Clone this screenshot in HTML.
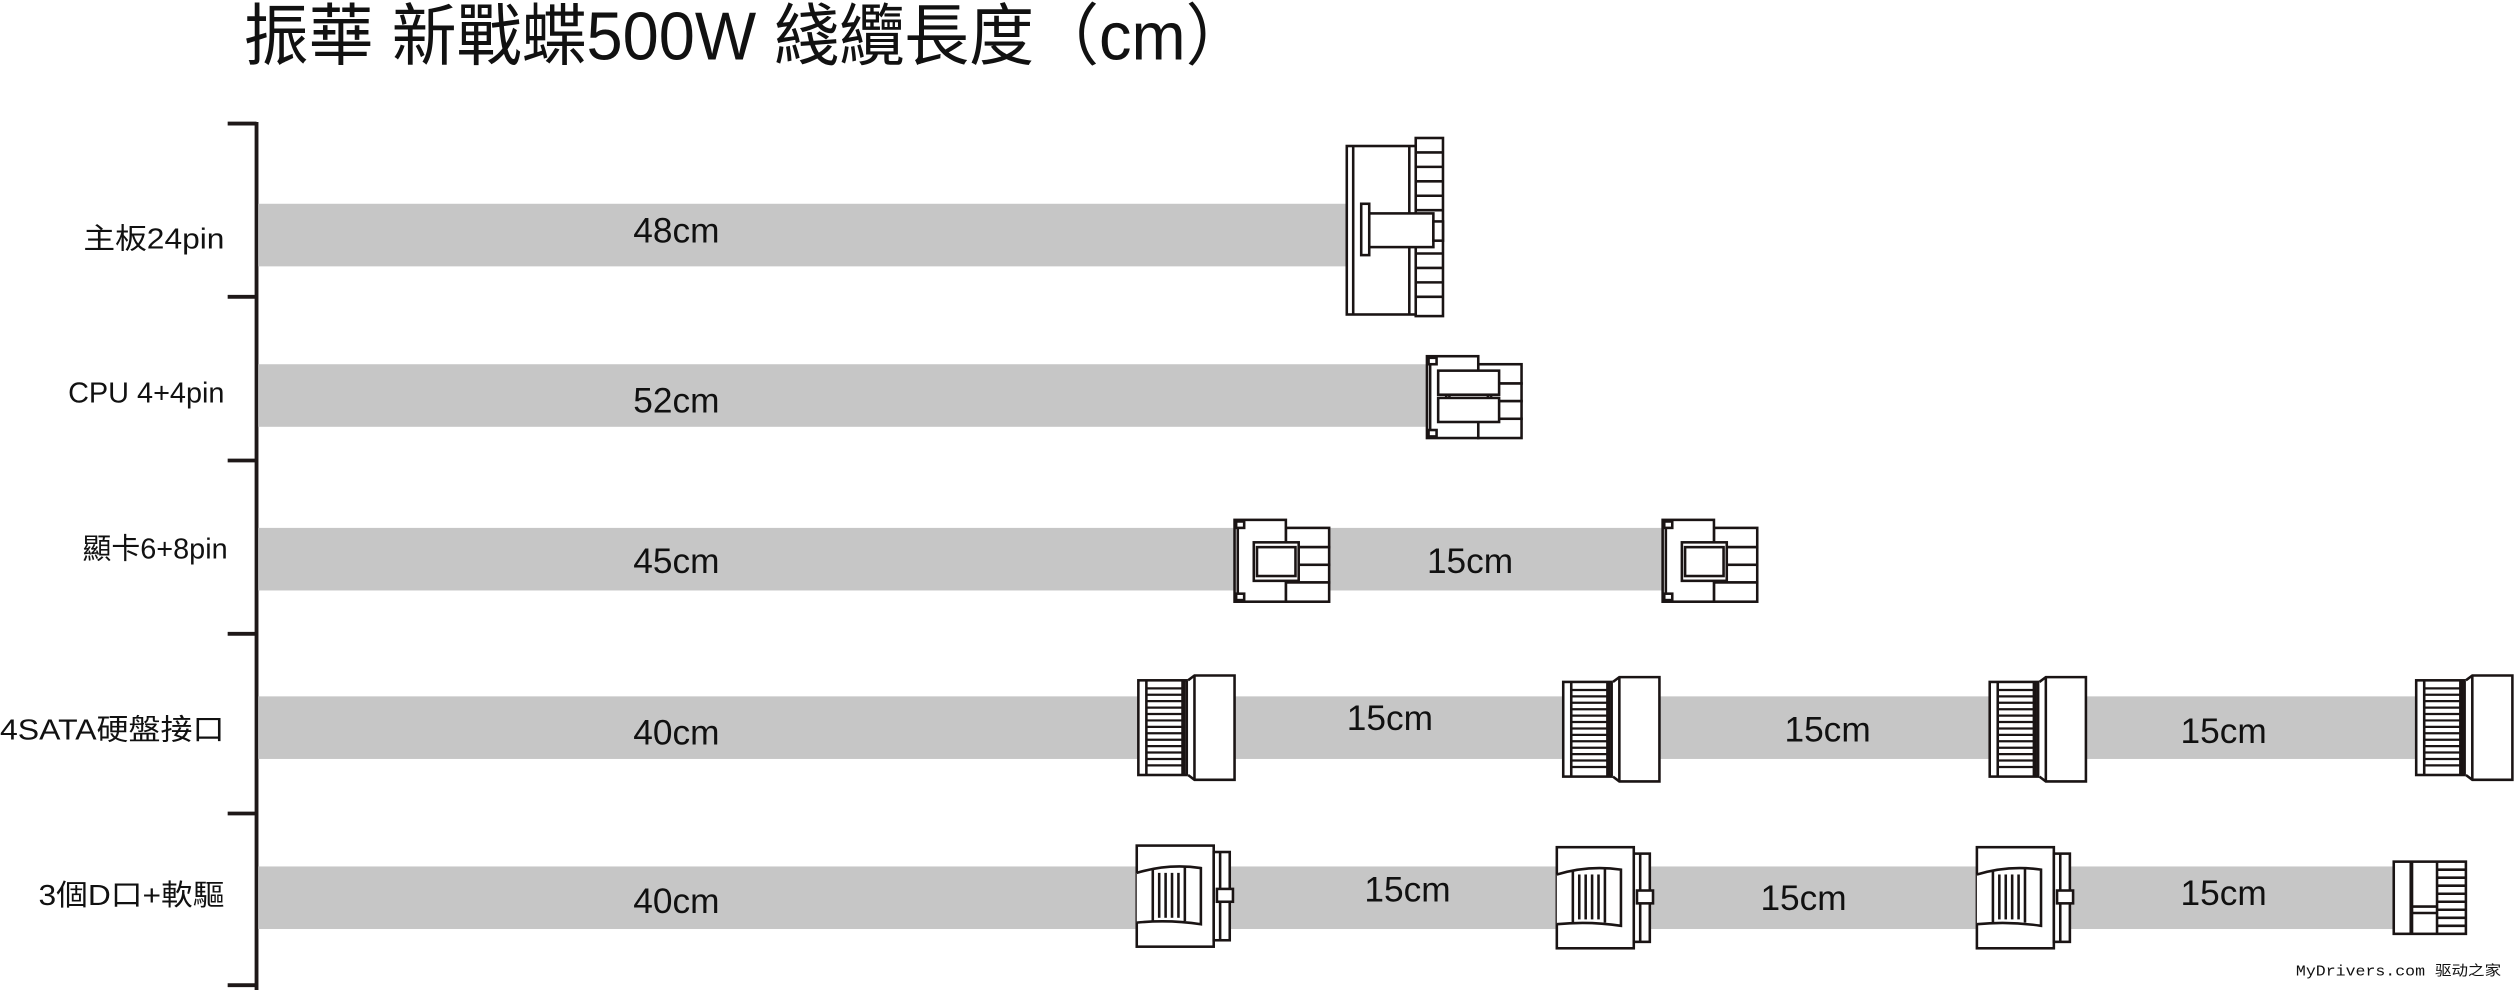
<!DOCTYPE html>
<html><head><meta charset="utf-8"><style>
html,body{margin:0;padding:0;background:#fff;width:2514px;height:990px;overflow:hidden}
svg{display:block}
text{font-family:"Liberation Sans","Noto Sans CJK TC",sans-serif;fill:#111}
</style></head><body>
<svg width="2514" height="990" viewBox="0 0 1568 617" preserveAspectRatio="none" xmlns="http://www.w3.org/2000/svg">
<defs>
<g id="sata" stroke="#1a1414" stroke-width="1.6" fill="#fff">
  <rect x="0" y="3" width="30" height="59"/>
  <line x1="5" y1="3" x2="5" y2="62"/>
  <g stroke-width="1.4">
    <line x1="5" y1="8" x2="28" y2="8"/><line x1="5" y1="12" x2="28" y2="12"/><line x1="5" y1="16" x2="28" y2="16"/>
    <line x1="5" y1="20" x2="28" y2="20"/><line x1="5" y1="24" x2="28" y2="24"/><line x1="5" y1="28" x2="28" y2="28"/>
    <line x1="5" y1="32" x2="28" y2="32"/><line x1="5" y1="36" x2="28" y2="36"/><line x1="5" y1="40" x2="28" y2="40"/>
    <line x1="5" y1="44" x2="28" y2="44"/><line x1="5" y1="48" x2="28" y2="48"/><line x1="5" y1="52" x2="28" y2="52"/>
    <line x1="5" y1="56" x2="28" y2="56"/>
  </g>
  <line x1="28" y1="3" x2="28" y2="62" stroke-width="2.5"/>
  <line x1="31" y1="3" x2="31" y2="62"/>
  <path d="M31,3 L35,0 L60,0 L60,65 L35,65 L31,62"/>
  <line x1="35" y1="0" x2="35" y2="65"/>
</g>
<g id="molex" stroke="#1a1414" stroke-width="1.6" fill="#fff">
  <rect x="0" y="0" width="48" height="63"/>
  <path d="M0,17 Q20,11 40,14 L40,49 Q20,46 0,48" />
  <line x1="10" y1="14" x2="10" y2="47"/><line x1="30" y1="13" x2="30" y2="47"/>
  <line x1="14" y1="17" x2="14" y2="45"/><line x1="18" y1="17" x2="18" y2="45"/><line x1="22" y1="17" x2="22" y2="45"/><line x1="26" y1="17" x2="26" y2="45"/>
  <rect x="48" y="4" width="10" height="55"/>
  <line x1="52" y1="4" x2="52" y2="59"/>
  <rect x="50" y="27" width="10" height="8"/>
</g>
<g id="pcie" stroke="#1a1414" stroke-width="1.6" fill="#fff">
  <rect x="32" y="5" width="27" height="12"/><rect x="32" y="17" width="27" height="11"/><rect x="32" y="28" width="27" height="11"/><rect x="32" y="39" width="27" height="12"/>
  <rect x="0" y="0" width="32" height="51"/>
  <line x1="2" y1="2" x2="2" y2="49"/>
  <rect x="1" y="1" width="5" height="4"/><rect x="1" y="46" width="5" height="4"/>
  <rect x="12" y="14" width="28" height="24"/>
  <rect x="14" y="17" width="24" height="18"/>
</g>
</defs>

<text x="152" y="37" font-size="42" textLength="628" lengthAdjust="spacingAndGlyphs">振華 新戰蝶500W 綫纜長度（cm）</text>

<g stroke="#1e1818" stroke-width="2.4">
  <line x1="160" y1="76" x2="160" y2="617"/>
  <line x1="142" y1="77" x2="160" y2="77"/>
  <line x1="142" y1="185" x2="160" y2="185"/>
  <line x1="142" y1="287" x2="160" y2="287"/>
  <line x1="142" y1="395" x2="160" y2="395"/>
  <line x1="142" y1="507" x2="160" y2="507"/>
  <line x1="142" y1="614" x2="160" y2="614"/>
</g>

<g fill="#c6c6c6">
  <rect x="161" y="127" width="680" height="39"/>
  <rect x="161" y="227" width="730" height="39"/>
  <rect x="161" y="329" width="878" height="39"/>
  <rect x="161" y="434" width="1348" height="39"/>
  <rect x="161" y="540" width="1334" height="39"/>
</g>

<g font-size="18" text-anchor="end">
  <text x="140" y="155" textLength="88" lengthAdjust="spacingAndGlyphs">主板24pin</text>
  <text x="140" y="251">CPU 4+4pin</text>
  <text x="142" y="348">顯卡6+8pin</text>
  <text x="140" y="461" textLength="140" lengthAdjust="spacingAndGlyphs">4SATA硬盤接口</text>
  <text x="140" y="564" textLength="116" lengthAdjust="spacingAndGlyphs">3個D口+軟驅</text>
</g>
<g font-size="22">
  <text x="395" y="151">48cm</text>
  <text x="395" y="257">52cm</text>
  <text x="395" y="357">45cm</text>
  <text x="890" y="357">15cm</text>
  <text x="395" y="464">40cm</text>
  <text x="840" y="455">15cm</text>
  <text x="1113" y="462">15cm</text>
  <text x="1360" y="463">15cm</text>
  <text x="395" y="569">40cm</text>
  <text x="851" y="562">15cm</text>
  <text x="1098" y="567">15cm</text>
  <text x="1360" y="564">15cm</text>
</g>

<g stroke="#1a1414" stroke-width="1.6" fill="#fff">
  <rect x="883" y="86" width="17" height="111"/>
  <line x1="883" y1="95" x2="900" y2="95"/><line x1="883" y1="104" x2="900" y2="104"/><line x1="883" y1="113" x2="900" y2="113"/><line x1="883" y1="122" x2="900" y2="122"/><line x1="883" y1="131" x2="900" y2="131"/><line x1="883" y1="140" x2="900" y2="140"/><line x1="883" y1="149" x2="900" y2="149"/><line x1="883" y1="158" x2="900" y2="158"/><line x1="883" y1="167" x2="900" y2="167"/><line x1="883" y1="176" x2="900" y2="176"/><line x1="883" y1="185" x2="900" y2="185"/>
  <rect x="840" y="91" width="43" height="105"/>
  <line x1="844" y1="91" x2="844" y2="196"/>
  <line x1="879" y1="91" x2="879" y2="196"/>
  <rect x="854" y="133" width="40" height="21"/>
  <rect x="849" y="127" width="5" height="32"/>
  <rect x="894" y="138" width="6" height="12"/>
</g>

<use href="#pcie" transform="translate(890,222)"/>
<g stroke="#1a1414" stroke-width="1.6" fill="#fff">
  <rect x="897" y="231" width="38" height="15"/><rect x="897" y="248" width="38" height="15"/>
</g>
<use href="#pcie" transform="translate(770,324)"/>
<use href="#pcie" transform="translate(1037,324)"/>

<use href="#sata" transform="translate(710,421)"/>
<use href="#sata" transform="translate(975,422)"/>
<use href="#sata" transform="translate(1241,422)"/>
<use href="#sata" transform="translate(1507,421)"/>

<use href="#molex" transform="translate(709,527)"/>
<use href="#molex" transform="translate(971,528)"/>
<use href="#molex" transform="translate(1233,528)"/>

<g stroke="#1a1414" stroke-width="1.6" fill="#fff">
  <rect x="1493" y="537" width="45" height="45"/>
  <line x1="1504" y1="537" x2="1504" y2="582" stroke-width="2.4"/>
  <line x1="1520" y1="537" x2="1520" y2="582"/>
  <line x1="1504" y1="565" x2="1520" y2="565"/><line x1="1504" y1="569" x2="1520" y2="569"/>
  <line x1="1520" y1="542" x2="1538" y2="542"/><line x1="1520" y1="547" x2="1538" y2="547"/><line x1="1520" y1="552" x2="1538" y2="552"/><line x1="1520" y1="557" x2="1538" y2="557"/><line x1="1520" y1="562" x2="1538" y2="562"/><line x1="1520" y1="567" x2="1538" y2="567"/><line x1="1520" y1="572" x2="1538" y2="572"/><line x1="1520" y1="577" x2="1538" y2="577"/>
</g>

<text x="1432" y="608" font-size="9" textLength="128" lengthAdjust="spacingAndGlyphs" style="font-family:'Liberation Mono','Noto Sans CJK SC',monospace">MyDrivers.com 驱动之家</text>
</svg>
</body></html>
